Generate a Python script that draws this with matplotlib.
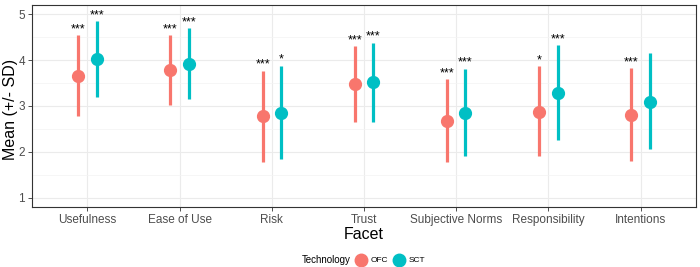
import matplotlib.pyplot as plt
from matplotlib.lines import Line2D
import numpy as np

plt.rcParams['font.family'] = ['Liberation Sans', 'DejaVu Sans']

facets = ["Usefulness", "Ease of Use", "Risk", "Trust", "Subjective Norms",
          "Responsibility", "Intentions"]

# means and +/- SD limits
ofc_mean = [3.66, 3.78, 2.78, 3.47, 2.67, 2.87, 2.80]
ofc_lo = [2.78, 3.02, 1.79, 2.65, 1.77, 1.91, 1.80]
ofc_hi = [4.54, 4.54, 3.77, 4.30, 3.58, 3.87, 3.82]
ofc_sig = ["***", "***", "***", "***", "***", "*", "***"]

sct_mean = [4.03, 3.92, 2.85, 3.52, 2.84, 3.28, 3.09]
sct_lo = [3.20, 3.15, 1.85, 2.65, 1.91, 2.25, 2.06]
sct_hi = [4.85, 4.69, 3.88, 4.38, 3.81, 4.33, 4.15]
sct_sig = ["***", "***", "*", "***", "***", "***", ""]

col_ofc = "#F8766D"
col_sct = "#00BFC4"

fig = plt.figure(figsize=(7, 2.67), dpi=100)
ax = fig.add_axes([0.0457, 0.225, 0.9486, 0.756])

x = np.arange(1, len(facets) + 1)
dodge = 0.1

for xs, mean, lo, hi, sig, col in [(x - dodge, ofc_mean, ofc_lo, ofc_hi, ofc_sig, col_ofc),
                                   (x + dodge, sct_mean, sct_lo, sct_hi, sct_sig, col_sct)]:
    ax.vlines(xs, lo, hi, color=col, linewidth=2.3, zorder=3)
    ax.plot(xs, mean, 'o', color=col, markersize=8.5, zorder=4)
    for xi, h, s in zip(xs, hi, sig):
        if s:
            ax.text(xi, h + 0.0, s, ha='center', va='bottom', fontsize=9,
                    color='black')

ax.set_xlim(0.4, 7.6)
ax.set_ylim(0.8, 5.2)
ax.set_xticks(x)
ax.set_xticklabels(facets)
ax.set_yticks([1, 2, 3, 4, 5])
ax.set_yticks([1.5, 2.5, 3.5, 4.5], minor=True)
ax.grid(True, which='major', color='#EBEBEB', linewidth=0.8)
ax.grid(True, which='minor', axis='y', color='#F3F3F3', linewidth=0.5)
ax.set_axisbelow(True)
ax.tick_params(axis='both', which='major', labelsize=8.5, labelcolor='#4D4D4D',
               color='#333333', length=3, width=0.6, pad=2)
ax.tick_params(axis='y', which='minor', length=0)
for sp in ax.spines.values():
    sp.set_color('#333333')
    sp.set_linewidth(0.8)

ax.set_xlabel("Facet", fontsize=11.5, labelpad=1)
fig.text(11 / 700, 0.59, "Mean (+/- SD)", rotation=90, ha='center', va='center',
         fontsize=11.5)

# legend at the bottom: title on the left, keys in one row
ly = 7 / 267
fig.text(302 / 700, ly, "Technology", ha='left', va='center', fontsize=7)
for cx, lab, col in [(361, "OFC", col_ofc), (399, "SCT", col_sct)]:
    fig.add_artist(Line2D([cx / 700], [ly], transform=fig.transFigure, marker='o',
                          color=col, linestyle='', markersize=9))
    fig.text((cx + 10) / 700, ly, lab, ha='left', va='center', fontsize=6)

plt.savefig("out.png", dpi=100)
